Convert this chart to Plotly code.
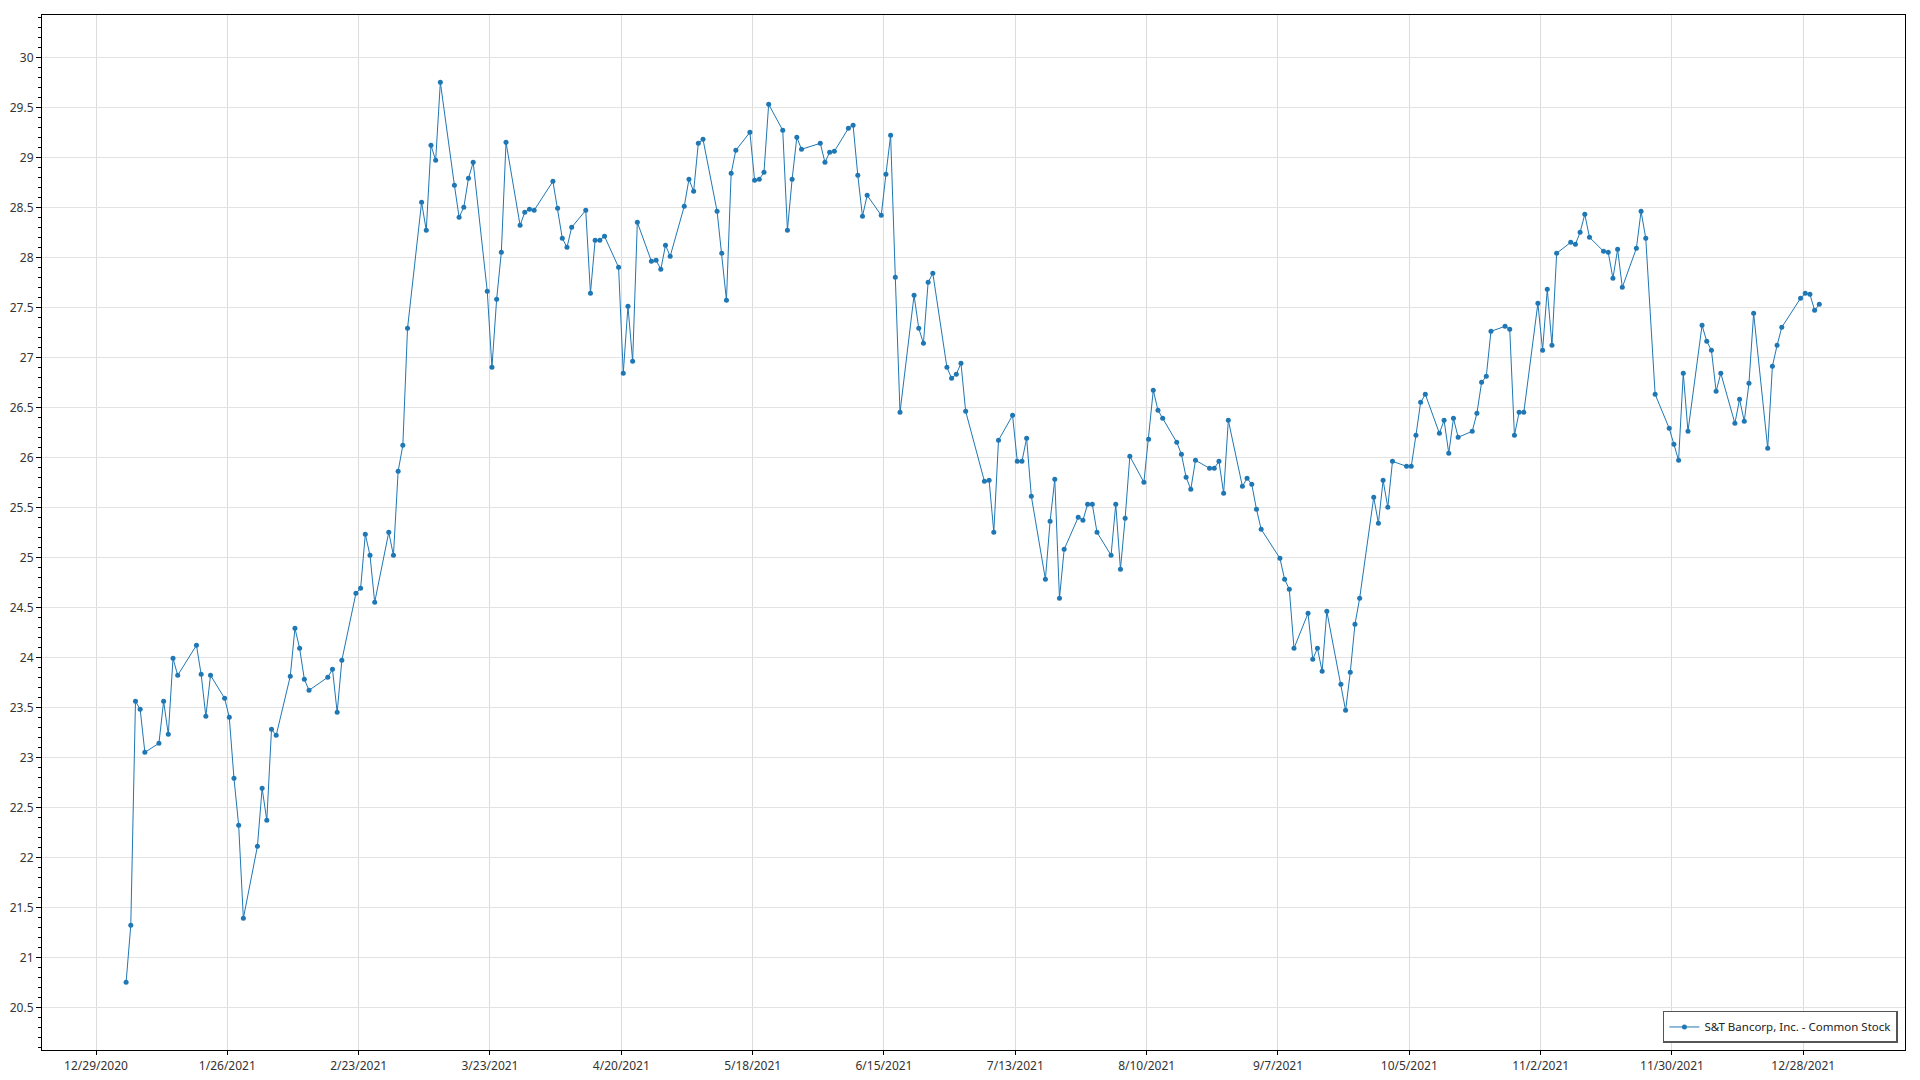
import plotly.graph_objects as go
import pandas as pd

months = {
    1: ([4, 5, 6, 7, 8, 11, 12, 13, 14, 15, 19, 20, 21, 22, 25, 26, 27, 28, 29],
        [20.75, 21.32, 23.56, 23.48, 23.05, 23.14, 23.56, 23.23, 23.99, 23.82, 24.12, 23.83, 23.41, 23.82, 23.59, 23.40, 22.79, 22.32, 21.39]),
    2: ([1, 2, 3, 4, 5, 8, 9, 10, 11, 12, 16, 17, 18, 19, 22, 23, 24, 25, 26],
        [22.11, 22.69, 22.37, 23.28, 23.22, 23.81, 24.29, 24.09, 23.78, 23.67, 23.80, 23.88, 23.45, 23.97, 24.64, 24.69, 25.23, 25.02, 24.55]),
    3: ([1, 2, 3, 4, 5, 8, 9, 10, 11, 12, 15, 16, 17, 18, 19, 22, 23, 24, 25, 26, 29, 30, 31],
        [25.25, 25.02, 25.86, 26.12, 27.29, 28.55, 28.27, 29.12, 28.97, 29.75, 28.72, 28.40, 28.50, 28.79, 28.95, 27.66, 26.90, 27.58, 28.05, 29.15, 28.32, 28.45, 28.48]),
    4: ([1, 5, 6, 7, 8, 9, 12, 13, 14, 15, 16, 19, 20, 21, 22, 23, 26, 27, 28, 29, 30],
        [28.47, 28.76, 28.49, 28.19, 28.10, 28.30, 28.47, 27.64, 28.17, 28.17, 28.21, 27.90, 26.84, 27.51, 26.96, 28.35, 27.96, 27.97, 27.88, 28.12, 28.01]),
    5: ([3, 4, 5, 6, 7, 10, 11, 12, 13, 14, 17, 18, 19, 20, 21, 24, 25, 26, 27, 28],
        [28.51, 28.78, 28.66, 29.14, 29.18, 28.46, 28.04, 27.57, 28.84, 29.07, 29.25, 28.77, 28.78, 28.85, 29.53, 29.27, 28.27, 28.78, 29.20, 29.08]),
    6: ([1, 2, 3, 4, 7, 8, 9, 10, 11, 14, 15, 16, 17, 18, 21, 22, 23, 24, 25, 28, 29, 30],
        [29.14, 28.95, 29.05, 29.06, 29.29, 29.32, 28.82, 28.41, 28.62, 28.42, 28.83, 29.22, 27.80, 26.45, 27.62, 27.29, 27.14, 27.75, 27.84, 26.90, 26.79, 26.83]),
    7: ([1, 2, 6, 7, 8, 9, 12, 13, 14, 15, 16, 19, 20, 21, 22, 23, 26, 27, 28, 29, 30],
        [26.94, 26.46, 25.76, 25.77, 25.25, 26.17, 26.42, 25.96, 25.96, 26.19, 25.61, 24.78, 25.36, 25.78, 24.59, 25.08, 25.40, 25.37, 25.53, 25.53, 25.25]),
    8: ([2, 3, 4, 5, 6, 9, 10, 11, 12, 13, 16, 17, 18, 19, 20, 23, 24, 25, 26, 27, 30, 31],
        [25.02, 25.53, 24.88, 25.39, 26.01, 25.75, 26.18, 26.67, 26.47, 26.39, 26.15, 26.03, 25.80, 25.68, 25.97, 25.89, 25.89, 25.96, 25.64, 26.37, 25.71, 25.79]),
    9: ([1, 2, 3, 7, 8, 9, 10, 13, 14, 15, 16, 17, 20, 21, 22, 23, 24, 27, 28, 29, 30],
        [25.73, 25.48, 25.28, 24.99, 24.78, 24.68, 24.09, 24.44, 23.98, 24.09, 23.86, 24.46, 23.73, 23.47, 23.85, 24.33, 24.59, 25.60, 25.34, 25.77, 25.50]),
    10: ([1, 4, 5, 6, 7, 8, 11, 12, 13, 14, 15, 18, 19, 20, 21, 22, 25, 26, 27, 28, 29],
         [25.96, 25.91, 25.91, 26.22, 26.55, 26.63, 26.24, 26.37, 26.04, 26.39, 26.20, 26.26, 26.44, 26.75, 26.81, 27.26, 27.31, 27.28, 26.22, 26.45, 26.45]),
    11: ([1, 2, 3, 4, 5, 8, 9, 10, 11, 12, 15, 16, 17, 18, 19, 22, 23, 24, 26, 29, 30],
         [27.54, 27.07, 27.68, 27.12, 28.04, 28.15, 28.13, 28.25, 28.43, 28.20, 28.06, 28.05, 27.79, 28.08, 27.70, 28.09, 28.46, 28.19, 26.63, 26.29, 26.13]),
    12: ([1, 2, 3, 6, 7, 8, 9, 10, 13, 14, 15, 16, 17, 20, 21, 22, 23, 27, 28, 29, 30, 31],
         [25.97, 26.84, 26.26, 27.32, 27.16, 27.07, 26.66, 26.84, 26.34, 26.58, 26.36, 26.74, 27.44, 26.09, 26.91, 27.12, 27.30, 27.59, 27.64, 27.63, 27.47, 27.53]),
}

# timestamps of the daily quotes (time of day of the recorded value)
quote_hour = 10

dates = []
prices = []
for m, (days, vals) in months.items():
    for d, v in zip(days, vals):
        dates.append(pd.Timestamp(2021, m, d, quote_hour))
        prices.append(v)

series_name = "S&T Bancorp, Inc. - Common Stock"
color = "#1f77b4"
font_family = "Noto Sans, Open Sans, sans-serif"

fig = go.Figure()
fig.add_trace(go.Scatter(
    x=dates, y=prices, mode="lines+markers", name=series_name,
    line=dict(color=color, width=1),
    marker=dict(color=color, size=5),
))

fig.update_layout(
    width=1920, height=1080,
    margin=dict(l=42, r=15, t=15, b=30, autoexpand=False),
    paper_bgcolor="white", plot_bgcolor="white",
    font=dict(family=font_family, size=12, color="#333333"),
    showlegend=True,
    legend=dict(
        x=0.9962, y=0.0068, xanchor="right", yanchor="bottom",
        bgcolor="white", bordercolor="#555555", borderwidth=1.5,
        font=dict(size=11.5, color="#222222"),
    ),
)

fig.update_xaxes(
    type="date", automargin=False,
    range=["2020-12-17 11:40", "2022-01-18 16:30"],
    tick0="2020-12-29", dtick=28 * 86400000,
    tickformat="%-m/%-d/%Y",
    showgrid=True, gridcolor="#dcdcdc", gridwidth=1,
    showline=True, linecolor="black", linewidth=1.2, mirror=True,
    ticks="outside", ticklen=4, tickcolor="black",
    zeroline=False,
)
fig.update_yaxes(
    automargin=False,
    range=[20.073, 30.423],
    tick0=20, dtick=0.5,
    showgrid=True, gridcolor="#e3e3e3", gridwidth=1,
    showline=True, linecolor="black", linewidth=1.2, mirror=True,
    ticks="outside", ticklen=5, tickcolor="black",
    minor=dict(dtick=0.1, ticks="outside", ticklen=3, tickcolor="black", showgrid=False),
    zeroline=False,
)

fig.write_html(
    "out.html",
    config={"displayModeBar": False},
    post_script="document.body.style.margin='0';document.body.style.overflow='hidden';",
)
